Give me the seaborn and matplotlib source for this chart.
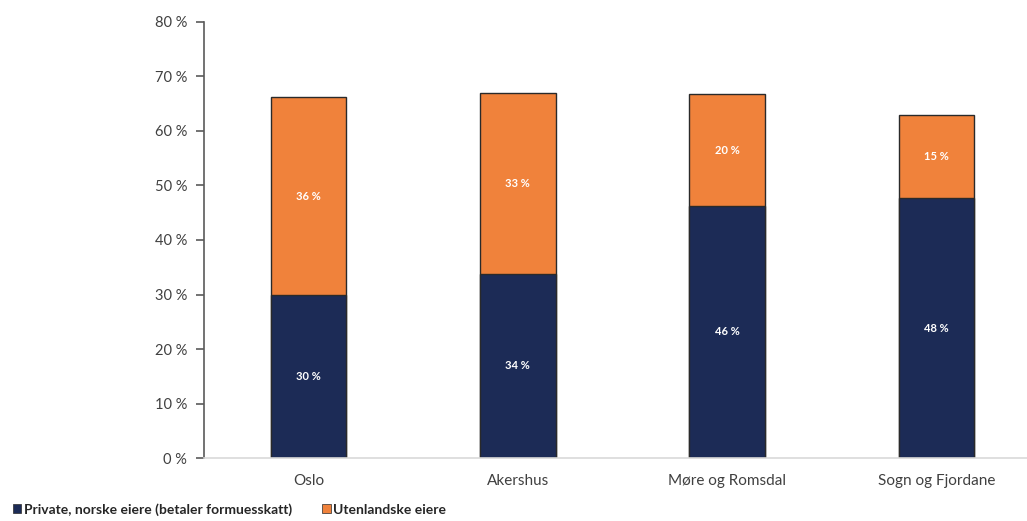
import matplotlib
matplotlib.use("Agg")
import matplotlib.pyplot as plt
import seaborn as sns
import pandas as pd
from matplotlib.patches import Patch

# data
regions = ["Oslo", "Akershus", "Møre og Romsdal", "Sogn og Fjordane"]
norske = [29.9, 33.8, 46.3, 47.7]
utenlandske = [36.3, 33.2, 20.4, 15.2]
y_ticks = [0, 10, 20, 30, 40, 50, 60, 70, 80]

navy = "#1c2b56"
orange = "#f0823b"

sns.set_style("white")
plt.rcParams["font.family"] = ["Lato", "DejaVu Sans"]

df = pd.DataFrame({"region": regions, "norske": norske, "utenlandske": utenlandske})
df["total"] = df["norske"] + df["utenlandske"]

fig = plt.figure(figsize=(10.27, 5.21), dpi=100)
ax = fig.add_axes([0.1986, 0.1209, 0.8150, 0.8369])

# stacked look: total in orange, norwegian part over it in navy
sns.barplot(data=df, x="region", y="total", color=orange, width=0.36,
            edgecolor="#2a2a2a", linewidth=1.0, saturation=1, ax=ax)
sns.barplot(data=df, x="region", y="norske", color=navy, width=0.36,
            edgecolor="#2a2a2a", linewidth=1.0, saturation=1, ax=ax)

for i, row in df.iterrows():
    ax.text(i, row["norske"] / 2, f"{round(row['norske'])} %", color="white",
            ha="center", va="center", fontsize=8, fontweight="bold")
    ax.text(i, row["norske"] + row["utenlandske"] / 2, f"{round(row['utenlandske'])} %",
            color="white", ha="center", va="center", fontsize=8, fontweight="bold")

ax.set_xlim(-0.5, 3.5)
ax.set_ylim(0, 80)
ax.set_yticks(y_ticks)
ax.set_yticklabels([f"{t} %" for t in y_ticks])
ax.set_xlabel("")
ax.set_ylabel("")

for s in ["top", "right"]:
    ax.spines[s].set_visible(False)
ax.spines["left"].set_color("#5a5a5a")
ax.spines["left"].set_linewidth(1.2)
ax.spines["bottom"].set_color("#d9d9d9")
ax.spines["bottom"].set_linewidth(1.2)
ax.tick_params(axis="y", left=True, length=6, width=1.2, color="#5a5a5a",
               labelsize=10.5, labelcolor="#404040", pad=6)
ax.tick_params(axis="x", bottom=False, labelsize=11, labelcolor="#404040", pad=8)

handles = [Patch(facecolor=navy, edgecolor="#2a2a2a", linewidth=0.5),
           Patch(facecolor=orange, edgecolor="#2a2a2a", linewidth=0.5)]
leg = fig.legend(handles, ["Private, norske eiere (betaler formuesskatt)", "Utenlandske eiere"],
                 loc="lower left", bbox_to_anchor=(0.0, -0.014), ncol=2, frameon=False,
                 handlelength=0.6, handleheight=0.6, handletextpad=0.2, columnspacing=2.2,
                 prop={"size": 10, "weight": "bold"})
for t in leg.get_texts():
    t.set_color("#262626")

fig.savefig("out.png", dpi=100)
